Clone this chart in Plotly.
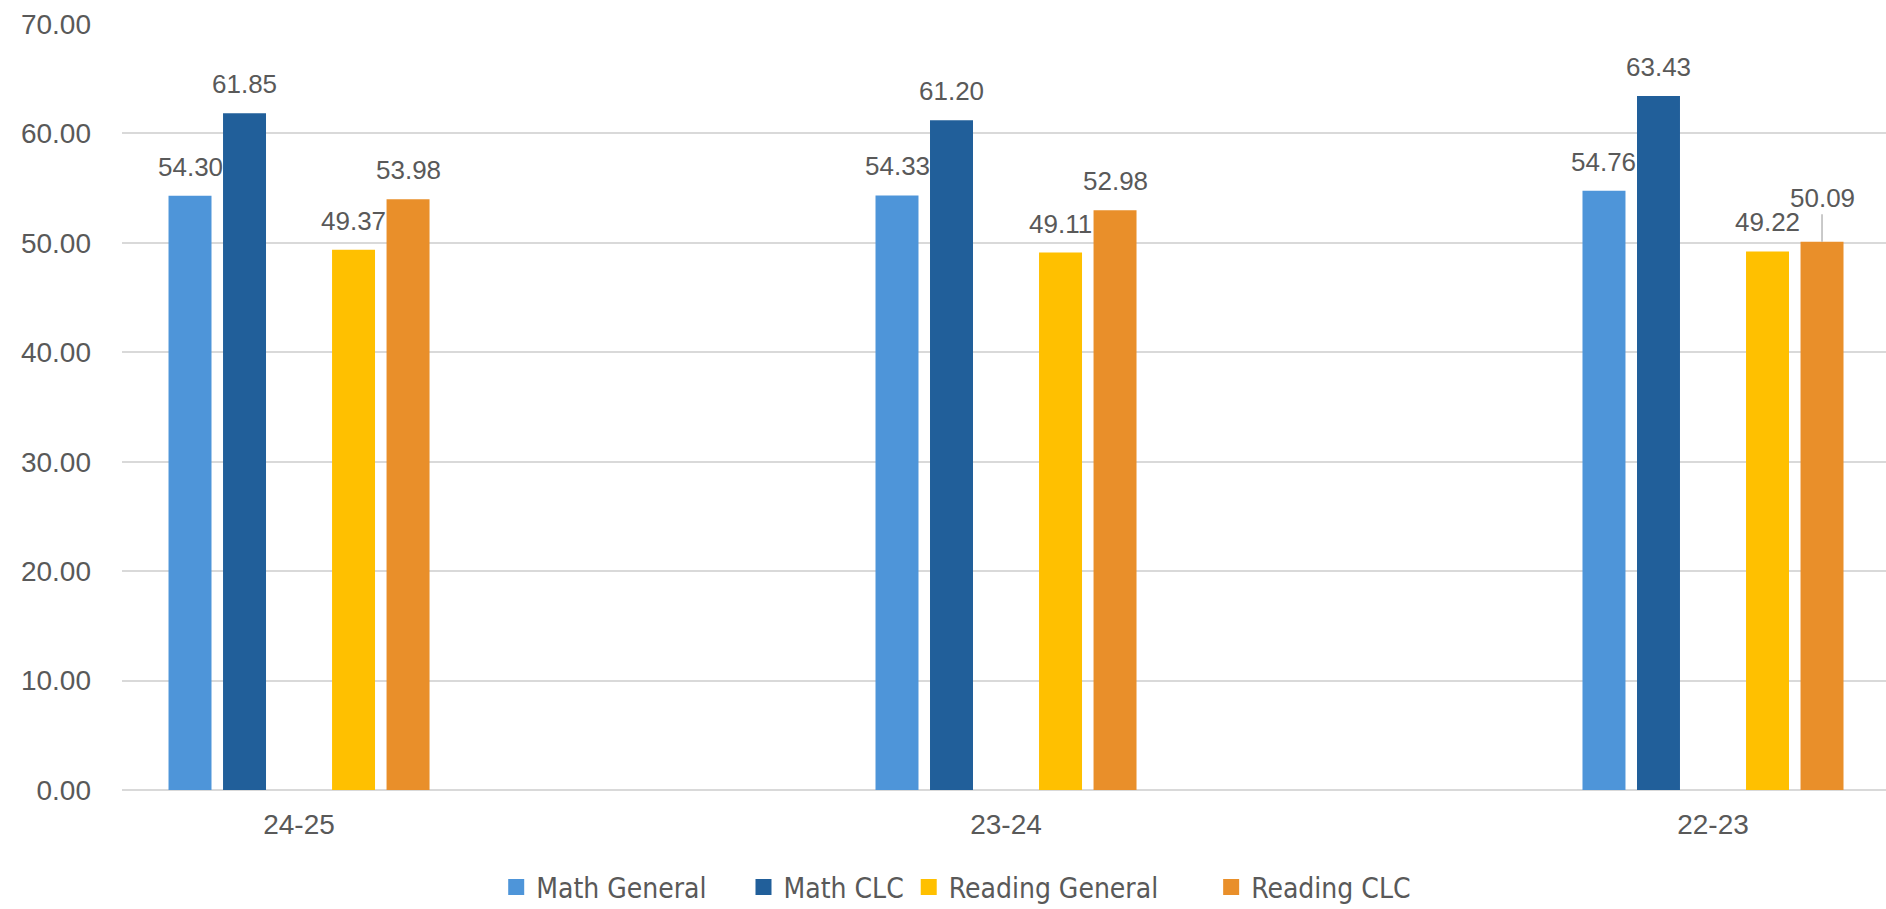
import plotly.graph_objects as go

categories = ["24-25", "23-24", "22-23"]
math_general = [54.30, 54.33, 54.76]
math_clc = [61.85, 61.20, 63.43]
reading_general = [49.37, 49.11, 49.22]
reading_clc = [53.98, 52.98, 50.09]

series_names = ["Math General", "Math CLC", "Reading General", "Reading CLC"]
series_values = [math_general, math_clc, reading_general, reading_clc]
series_colors = ["#4E95D9", "#215F9A", "#FFC000", "#E98F2A"]
slot_index = [0, 1, 3, 4]  # slot 2 is an empty gap, as in the source chart
legend_pad = [4, 0, 6, 0]

slot = 0.0771
bar_w = 0.0608
text_color = "#595959"
label_font = dict(family="Liberation Sans, Arial", size=26, color=text_color)

fig = go.Figure()
annotations = []
for name, vals, col, si in zip(series_names, series_values, series_colors, slot_index):
    off = (si - 2) * slot - bar_w / 2
    fig.add_trace(go.Bar(
        name=name, x=categories, y=vals, marker_color=col,
        offset=off, width=bar_w, marker_line_width=0, showlegend=False,
    ))
    for ci, v in enumerate(vals):
        xc = ci + (si - 2) * slot
        label = f"{v:.2f}"
        if name == "Reading CLC" and categories[ci] == "22-23":
            annotations.append(dict(
                x=xc, y=v, xref="x", yref="y", text=label, showarrow=True,
                ax=0, ay=-44, arrowhead=0, arrowwidth=1.2, arrowcolor="#A6A6A6",
                standoff=0, startstandoff=0, font=label_font,
            ))
        else:
            annotations.append(dict(
                x=xc, y=v, xref="x", yref="y", text=label, showarrow=False,
                yanchor="bottom", yshift=12, font=label_font,
            ))

# legend entries with square swatches
for name, col, p in zip(series_names, series_colors, legend_pad):
    fig.add_trace(go.Scatter(
        name=name + "\u00a0" * p, x=[None], y=[None], mode="markers",
        marker=dict(symbol="square", size=19, color=col), showlegend=True,
    ))

fig.update_layout(
    width=1886, height=909,
    margin=dict(l=122, r=0, t=24, b=119),
    plot_bgcolor="white", paper_bgcolor="white",
    barmode="overlay",
    annotations=annotations,
    font=dict(family="Liberation Sans, Arial", color=text_color),
    legend=dict(
        orientation="h", xref="container", yref="container",
        x=0.507, xanchor="center", y=0.024, yanchor="middle",
        font=dict(family="Liberation Sans Narrow, DejaVu Sans Condensed, Arial Narrow", size=28, color=text_color),
        itemwidth=30, traceorder="normal",
    ),
    xaxis=dict(
        type="category", range=[-0.2504, 2.2447], showgrid=False,
        showline=False, ticks="", ticklabelstandoff=15,
        tickfont=dict(size=28, color=text_color),
    ),
    yaxis=dict(
        range=[0, 70], dtick=10, tickformat=".2f", showgrid=True,
        gridcolor="#D9D9D9", gridwidth=1.5, zeroline=True,
        zerolinecolor="#D9D9D9", zerolinewidth=1.5, showline=False,
        ticks="", ticklabelstandoff=30,
        tickfont=dict(size=28, color=text_color),
    ),
)

fig.write_html(
    "out.html",
    config={"displayModeBar": False},
    post_script="document.body.style.margin='0px';document.body.style.overflow='hidden';",
)
